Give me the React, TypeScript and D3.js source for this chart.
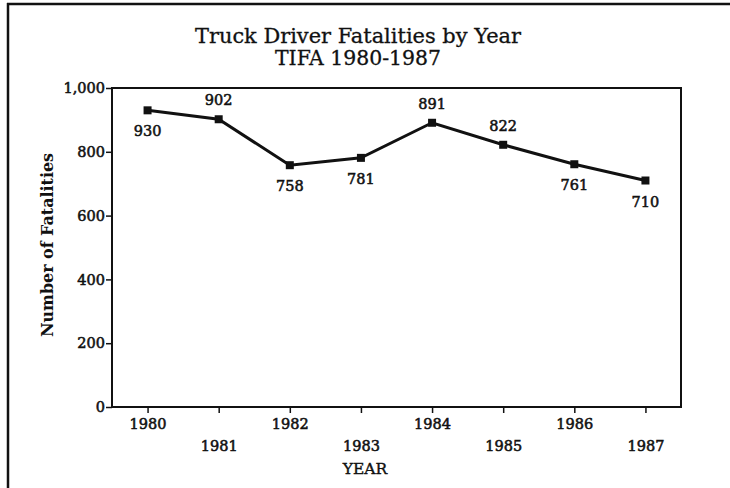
import React, { useEffect, useRef } from "react";
import * as d3 from "d3";

const years = ["1980", "1981", "1982", "1983", "1984", "1985", "1986", "1987"];
const fatalities = [930, 902, 758, 781, 891, 822, 761, 710];
const labelSide = ["below", "above", "below", "below", "above", "above", "below", "below"];
const yTicks = [0, 200, 400, 600, 800, 1000];

const FONT = "'DejaVu Serif', 'Liberation Serif', serif";

const App = () => {
  const ref = useRef(null);

  useEffect(() => {
    document.documentElement.style.overflow = "hidden";
    const svg = d3.select(ref.current);
    svg.selectAll("*").remove();

    const W = 730, H = 488;
    const margin = { top: 88, right: 49, bottom: 81, left: 112 };
    const width = W - margin.left - margin.right;
    const height = H - margin.top - margin.bottom;

    svg.append("rect").attr("width", W).attr("height", H).attr("fill", "#fff");

    // outer frame (cropped at right/bottom)
    svg.append("line").attr("x1", 8).attr("x2", 8).attr("y1", 3).attr("y2", H)
      .attr("stroke", "#111").attr("stroke-width", 2.5);
    svg.append("line").attr("x1", 7).attr("x2", W).attr("y1", 4).attr("y2", 4)
      .attr("stroke", "#111").attr("stroke-width", 2.5);

    // title
    const title = svg
      .append("text")
      .attr("text-anchor", "middle")
      .style("font-family", FONT)
      .style("font-size", "20px")
      .attr("fill", "#111")
      .attr("stroke", "#111")
      .attr("stroke-width", 0.3);
    title.append("tspan").attr("x", 358).attr("y", 43)
      .attr("textLength", 326).attr("lengthAdjust", "spacingAndGlyphs")
      .text("Truck Driver Fatalities by Year");
    title.append("tspan").attr("x", 358).attr("y", 65)
      .attr("textLength", 166).attr("lengthAdjust", "spacingAndGlyphs")
      .text("TIFA 1980-1987");

    const chart = svg
      .append("g")
      .attr("transform", `translate(${margin.left},${margin.top})`);

    const x = d3.scalePoint().domain(years).range([0, width]).padding(0.5);
    const y = d3.scaleLinear().domain([0, 1000]).range([height, 0]);

    // plot frame
    chart
      .append("rect")
      .attr("width", width)
      .attr("height", height)
      .attr("fill", "none")
      .attr("stroke", "#111")
      .attr("stroke-width", 2);

    const numStyle = (sel: any) =>
      sel
        .style("font-family", FONT)
        .style("font-size", "14.5px")
        .attr("fill", "#111")
        .attr("stroke", "#111")
        .attr("stroke-width", 0.55);

    // y axis
    const yAxis = chart
      .append("g")
      .call(d3.axisLeft(y).tickValues(yTicks).tickSize(6).tickFormat(d3.format(",")));
    yAxis.select(".domain").remove();
    yAxis.selectAll("line").attr("stroke", "#111").attr("stroke-width", 1.5);
    numStyle(yAxis.selectAll("text").attr("x", -7));

    // x axis
    const xAxis = chart
      .append("g")
      .attr("transform", `translate(0,${height})`)
      .call(d3.axisBottom(x).tickSize(6));
    xAxis.select(".domain").remove();
    xAxis.selectAll("line").attr("stroke", "#111").attr("stroke-width", 1.5);
    numStyle(xAxis.selectAll("text").attr("y", (d: any, i: number) => (i % 2 === 0 ? 12 : 34)));

    // axis titles
    svg
      .append("text")
      .attr("x", 365)
      .attr("y", 474)
      .attr("text-anchor", "middle")
      .style("font-family", FONT)
      .style("font-size", "15.5px")
      .attr("fill", "#111")
      .attr("stroke", "#111")
      .attr("stroke-width", 0.4)
      .text("YEAR");

    svg
      .append("text")
      .attr("transform", `translate(53,245) rotate(-90)`)
      .attr("text-anchor", "middle")
      .attr("textLength", 184)
      .attr("lengthAdjust", "spacingAndGlyphs")
      .style("font-family", FONT)
      .style("font-size", "16.5px")
      .style("font-weight", "bold")
      .attr("fill", "#111")
      .text("Number of Fatalities");

    // line
    const line = d3
      .line<number>()
      .x((d, i) => x(years[i]) as number)
      .y((d) => y(d));
    chart
      .append("path")
      .datum(fatalities)
      .attr("d", line)
      .attr("fill", "none")
      .attr("stroke", "#111")
      .attr("stroke-width", 3);

    // markers
    chart
      .selectAll(".pt")
      .data(fatalities)
      .enter()
      .append("rect")
      .attr("x", (d, i) => (x(years[i]) as number) - 4)
      .attr("y", (d) => y(d) - 4)
      .attr("width", 8)
      .attr("height", 8)
      .attr("fill", "#111");

    // value labels
    numStyle(
      chart
        .selectAll(".lbl")
        .data(fatalities)
        .enter()
        .append("text")
        .attr("x", (d, i) => x(years[i]) as number)
        .attr("y", (d, i) => y(d) + (labelSide[i] === "above" ? -14 : 26))
        .attr("text-anchor", "middle")
        .text((d) => d)
    );
  }, []);

  return (
    <svg
      ref={ref}
      width={730}
      height={488}
      style={{ position: "absolute", left: 0, top: 0 }}
    />
  );
};

export default App;
